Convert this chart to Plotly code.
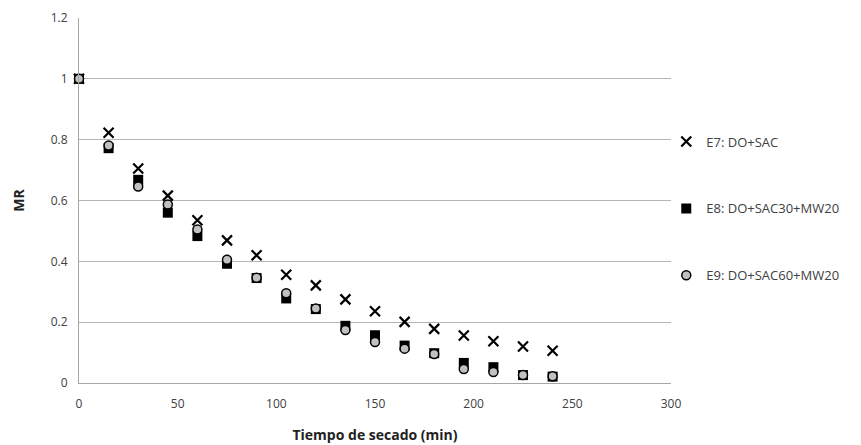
import plotly.graph_objects as go

tiempo = [0, 15, 30, 45, 60, 75, 90, 105, 120, 135, 150, 165, 180, 195, 210, 225, 240]
e7 = [1.0, 0.823, 0.705, 0.616, 0.535, 0.469, 0.42, 0.356, 0.321, 0.275, 0.236, 0.201, 0.178, 0.156, 0.137, 0.12, 0.106]
e8 = [1.0, 0.772, 0.668, 0.56, 0.483, 0.392, 0.345, 0.278, 0.243, 0.188, 0.157, 0.123, 0.098, 0.066, 0.052, 0.026, 0.021]
e9 = [1.0, 0.781, 0.646, 0.587, 0.505, 0.405, 0.346, 0.295, 0.245, 0.174, 0.135, 0.113, 0.095, 0.046, 0.036, 0.026, 0.022]
names = ["E7: DO+SAC", "E8: DO+SAC30+MW20", "E9: DO+SAC60+MW20"]

fig = go.Figure()
fig.add_trace(go.Scatter(x=tiempo, y=e7, mode="markers", name=names[0], legendgroup="a", cliponaxis=False,
                         marker=dict(symbol="x-thin", size=10, line=dict(color="black", width=2.2), color="black")))
fig.add_trace(go.Scatter(x=tiempo, y=e8, mode="markers", name=names[1], legendgroup="b", cliponaxis=False,
                         marker=dict(symbol="square", size=10, color="black", line=dict(width=0))))
fig.add_trace(go.Scatter(x=tiempo, y=e9, mode="markers", name=names[2], legendgroup="c", cliponaxis=False,
                         marker=dict(symbol="circle", size=9, color="#c0c0c0", line=dict(color="black", width=1.5))))

font = "Open Sans, Liberation Sans, sans-serif"
# page body has an 8px default margin, so the figure is sized to fit the 861x445 window
fig.update_layout(
    width=853, height=437,
    margin=dict(l=71, r=190, t=10, b=62, autoexpand=False),
    plot_bgcolor="white", paper_bgcolor="white",
    font=dict(family=font, size=12, color="#404040"),
    showlegend=True,
    legend=dict(x=0.992, xanchor="left", y=0.478, yanchor="middle", tracegroupgap=47,
                font=dict(size=13, color="#404040"), itemwidth=30, bgcolor="rgba(0,0,0,0)"),
    xaxis=dict(range=[0, 300], dtick=50, showgrid=False, showline=True, linecolor="#a6a6a6",
               linewidth=1, zeroline=False, ticks="", tickfont=dict(size=12), automargin=False,
               ticklabelstandoff=10,
               title=dict(text="<b>Tiempo de secado (min)</b>", font=dict(size=14, color="#222222"), standoff=18)),
    yaxis=dict(range=[0, 1.2], dtick=0.2, showgrid=True, gridcolor="#b5b5b5", gridwidth=1,
               showline=True, linecolor="#a6a6a6", linewidth=1, zeroline=False, ticks="",
               tickfont=dict(size=12), tickformat="~g", automargin=False, ticklabelstandoff=8,
               title=dict(text="<b>MR</b>", font=dict(size=14, color="#222222"), standoff=22)),
)
fig.write_html("out.html")
